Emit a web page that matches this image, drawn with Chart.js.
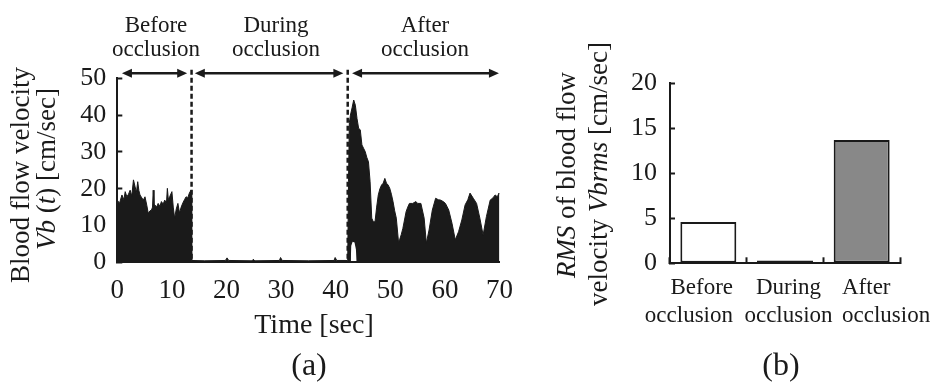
<!DOCTYPE html>
<html><head><meta charset="utf-8">
<script src="https://cdn.jsdelivr.net/npm/chart.js@4/dist/chart.umd.min.js"></script>
<style>
html,body{margin:0;padding:0;background:#fff;}
#wrap{position:relative;width:935px;height:383px;overflow:hidden;font-family:'Liberation Serif','Times New Roman',serif;color:#1a1a1a;}
canvas{position:absolute;top:0;}
.t{position:absolute;white-space:nowrap;}
.rot{transform:translate(-50%,-50%) rotate(-90deg);line-height:1;font-size:27px;}
.top{top:13px;font-size:23px;line-height:24px;text-align:center;transform:translateX(-50%);}
.cat{top:273px;font-size:23px;line-height:28px;}
</style></head><body>
<div id="wrap">
<canvas id="ca" width="525" height="383" style="left:0"></canvas>
<canvas id="cb" width="410" height="383" style="left:525px"></canvas>

<div class="t top" style="left:156px">Before<br>occlusion</div>
<div class="t top" style="left:276px">During<br>occlusion</div>
<div class="t top" style="left:425px">After<br>occlusion</div>

<div class="t rot" style="left:19.5px;top:175px">Blood flow velocity</div>
<div class="t rot" style="left:46.3px;top:169px"><i>Vb</i> (<i>t</i>) [cm/sec]</div>
<div class="t rot" style="left:566px;top:175px"><i>RMS</i> of blood flow</div>
<div class="t rot" style="left:597.6px;top:173.5px">velocity <i>Vbrms</i> [cm/sec]</div>

<div class="t" style="left:314px;top:309.5px;font-size:28px;line-height:28px;transform:translateX(-50%)">Time [sec]</div>
<div class="t" style="left:309px;top:348px;font-size:32px;line-height:32px;transform:translateX(-50%)">(a)</div>
<div class="t" style="left:781px;top:348px;font-size:32px;line-height:32px;transform:translateX(-50%)">(b)</div>

<div class="t cat" style="left:733px;transform:translateX(-100%);text-align:right">Before<br>occlusion</div>
<div class="t cat" style="left:788.5px;transform:translateX(-50%);text-align:center">During<br>occlusion</div>
<div class="t cat" style="left:842px;text-align:left">After<br>occlusion</div>
</div>
<script>
// ---- data (a): upper envelope of blood flow velocity Vb(t) ----
const timeSec = [0,0.4,0.85,1.2,1.45,1.75,2.05,2.35,2.65,2.96,3.26,3.5,3.74,3.95,4.16,4.5,4.77,5.07,5.4,5.67,6.0,6.27,6.45,6.58,6.72,6.88,7.2,7.48,7.8,8.08,8.4,8.69,9.0,9.17,9.35,9.59,10.0,10.25,10.5,10.8,11.1,11.4,11.7,12.0,12.3,12.6,12.9,13.2,13.5,13.6,
  13.65,16.0,19.8,20.1,20.4,24.7,24.9,25.2,29.7,29.9,30.2,35.0,39.7,39.9,40.2,42.2,
  42.35,42.5,42.7,43.0,43.3,43.6,43.9,44.2,44.5,44.8,45.1,45.4,45.7,46.0,46.3,46.6,46.9,47.2,47.5,47.8,48.1,48.4,48.7,49.0,49.3,49.6,49.9,50.2,50.5,50.8,51.1,51.5,51.7,52.0,52.3,52.6,52.9,53.2,53.5,54.1,54.7,55.0,55.6,56.2,56.6,57.1,57.7,58.3,58.8,59.2,59.7,60.1,60.7,61.3,61.9,62.5,63.1,63.7,64.2,64.6,65.2,65.8,66.4,67.0,67.6,68.3,68.8,69.2,69.6,69.9,70];
const velocity = [16.9,16.0,18.3,17.0,19.2,17.8,18.5,19.6,18.0,22.4,20.5,19.0,21.9,19.5,18.3,17.5,16.9,17.8,15.5,13.3,14.0,14.2,15.0,19.6,15.5,15.6,15.0,16.0,15.2,16.5,15.8,16.9,16.0,20.1,17.0,17.8,19.2,15.0,12.0,14.5,16.0,13.4,15.0,16.1,17.0,17.8,17.5,18.8,19.6,19.0,
  0.5,0.4,0.5,1.2,0.5,0.4,0.8,0.4,0.5,1.3,0.5,0.4,0.5,1.3,0.5,0.5,
  22,38,40.0,42.0,44.1,42.7,39.1,36.4,36.0,31.9,31.0,30.1,28.5,27.3,21.9,12.0,11.0,11.0,15.0,18.3,20.0,21.0,21.5,22.8,21.5,21.0,20.1,18.5,16.5,14.0,12.0,5.6,6.1,7.5,9.2,11.5,13.8,15.0,16.0,16.0,16.5,16.0,16.0,12.0,5.2,8.8,14.2,17.4,17.0,16.9,16.5,16.0,14.2,10.6,6.1,8.3,11.5,15.6,17.0,18.8,17.4,16.0,12.0,7.4,12.4,16.9,17.5,18.3,17.8,18.8,18.5];
// lower envelope where the signal did not return to zero just after release
const notchTime = [42.75,42.85,43.1,43.45,43.7,43.85];
const notchLevel = [0,4.5,5.6,5.4,3.5,0];
// occlusion periods (arrows) and dividers
const dividerTimes = [13.6, 42.2];
const periodStart = [0.85, 14.2, 43.0];
const periodEnd = [12.8, 41.4, 69.9];
const arrowLevel = 51.4;
const dividerTop = 52.3;
const xTickStepA = 10, yTickStepA = 10;

// ---- data (b): RMS of blood flow velocity ----
const rmsCategories = ['Before occlusion', 'During occlusion', 'After occlusion'];
const rmsValues = [4.6, 0.3, 13.7];
const yTickStepB = 5;

const ink = '#1a1a1a';
const rmsFills = ['#ffffff', '#ffffff', '#888888'];

Chart.defaults.font.family = "'Liberation Serif','Times New Roman',serif";
Chart.defaults.color = ink;

const wavePts = timeSec.map((t, i) => ({x: t, y: velocity[i]}));
const notchPts = notchTime.map((t, i) => ({x: t, y: notchLevel[i]}));

const marks = {
  id: 'occlusionMarks',
  afterDatasetsDraw(chart) {
    const {ctx, scales: {x, y}} = chart;
    ctx.save();
    ctx.strokeStyle = ink; ctx.fillStyle = ink;
    ctx.lineWidth = 2.5; ctx.setLineDash([5, 3]);
    dividerTimes.forEach(t => {
      const px = x.getPixelForValue(t);
      ctx.beginPath(); ctx.moveTo(px, y.getPixelForValue(dividerTop)); ctx.lineTo(px, y.getPixelForValue(0)); ctx.stroke();
    });
    ctx.setLineDash([]);
    const ay = y.getPixelForValue(arrowLevel);
    const head = (px, dir) => {
      ctx.beginPath(); ctx.moveTo(px, ay); ctx.lineTo(px + dir * 10, ay - 4.5); ctx.lineTo(px + dir * 10, ay + 4.5); ctx.closePath(); ctx.fill();
    };
    periodStart.forEach((s, i) => {
      const x1 = x.getPixelForValue(s), x2 = x.getPixelForValue(periodEnd[i]);
      ctx.beginPath(); ctx.moveTo(x1 + 6, ay); ctx.lineTo(x2 - 6, ay); ctx.stroke();
      head(x1, 1); head(x2, -1);
    });
    ctx.restore();
  }
};

new Chart(document.getElementById('ca'), {
  type: 'line',
  data: { datasets: [
    { data: notchPts, fill: 'origin', backgroundColor: '#ffffff', borderWidth: 0, pointRadius: 0, order: 0 },
    { data: wavePts, fill: 'origin', backgroundColor: ink, borderColor: ink, borderWidth: 1, pointRadius: 0, tension: 0, order: 1 }
  ]},
  options: {
    responsive: false, animation: false, devicePixelRatio: 1,
    layout: { padding: { left: 0, top: 78.3, right: 20.7, bottom: 0 } },
    plugins: { legend: { display: false }, tooltip: { enabled: false } },
    scales: {
      x: { type: 'linear', min: 0, max: 70,
        ticks: { stepSize: xTickStepA, font: { size: 27 }, padding: 12, maxRotation: 0, autoSkip: false },
        grid: { drawOnChartArea: false, drawTicks: false, color: ink },
        border: { color: ink, width: 2, z: 1 },
        afterFit: s => { s.height = 120.7; } },
      y: { min: 0, max: 50,
        ticks: { stepSize: yTickStepA, font: { size: 26 }, padding: 16 },
        grid: { drawOnChartArea: false, drawTicks: true, tickLength: -5, tickWidth: 2, color: ink },
        border: { color: ink, width: 2, z: 1 },
        afterFit: s => { s.width = 117.3; } }
    }
  },
  plugins: [marks]
});

new Chart(document.getElementById('cb'), {
  type: 'bar',
  data: { labels: rmsCategories, datasets: [{
    data: rmsValues, backgroundColor: rmsFills, borderColor: ink, borderWidth: 2, borderSkipped: false,
    barPercentage: 0.73, categoryPercentage: 1 }]},
  options: {
    responsive: false, animation: false, devicePixelRatio: 1,
    layout: { padding: { left: 0, top: 83.3, right: 35, bottom: 0 } },
    plugins: { legend: { display: false }, tooltip: { enabled: false } },
    scales: {
      x: { ticks: { display: false },
        grid: { offset: true, drawOnChartArea: false, drawTicks: true, tickLength: -6, tickWidth: 2, color: ink },
        border: { color: ink, width: 2, z: 0 },
        afterFit: s => { s.height = 119.7; } },
      y: { min: 0, max: 20,
        ticks: { stepSize: yTickStepB, font: { size: 26 }, padding: 18 },
        grid: { drawOnChartArea: false, drawTicks: true, tickLength: -5, tickWidth: 2, color: ink },
        border: { color: ink, width: 2, z: 1 },
        afterFit: s => { s.width = 145; } }
    }
  }
});
</script>
</body></html>
